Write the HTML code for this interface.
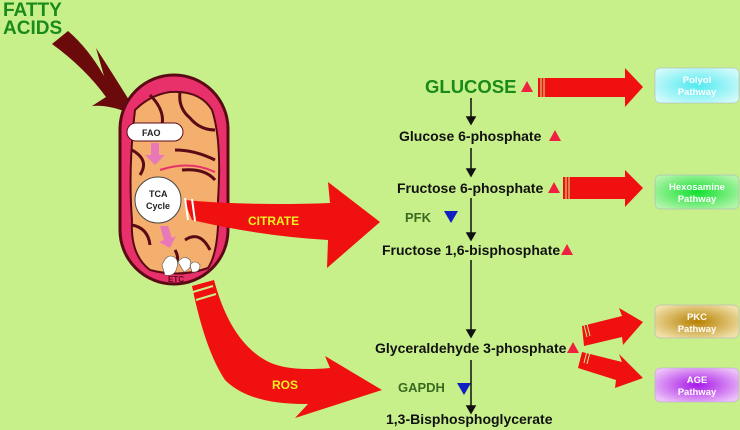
<!DOCTYPE html>
<html><head><meta charset="utf-8"><style>
html,body{margin:0;padding:0;background:#c8f08a;}
svg{display:block}
text{font-family:"Liberation Sans",Arial,sans-serif;font-weight:bold}
</style></head><body>
<svg width="740" height="430" viewBox="0 0 740 430" xmlns="http://www.w3.org/2000/svg">
<defs>
<radialGradient id="gp" cx="50%" cy="50%" r="60%"><stop offset="0" stop-color="#50eaf0"/><stop offset="1" stop-color="#d0fafa"/></radialGradient>
<radialGradient id="gh" cx="50%" cy="50%" r="60%"><stop offset="0" stop-color="#10e030"/><stop offset="1" stop-color="#b0f5a8"/></radialGradient>
<radialGradient id="gk" cx="50%" cy="50%" r="60%"><stop offset="0" stop-color="#b88000"/><stop offset="1" stop-color="#f0e0a8"/></radialGradient>
<radialGradient id="ga" cx="50%" cy="50%" r="60%"><stop offset="0" stop-color="#a818e8"/><stop offset="1" stop-color="#ecc0f8"/></radialGradient>
</defs>
<rect width="740" height="430" fill="#c8f08a"/>
<text x="3" y="16" font-size="19" fill="#1a8a1a">FATTY</text>
<text x="3" y="34" font-size="19" fill="#1a8a1a">ACIDS</text>
<!-- fatty acid arrow -->
<path d="M52,44 L68,31 Q88,48 104,76 L96,48 Q120,85 140,118 Q112,104 92,106 L106,97 Q85,68 52,44Z" fill="#6b0a0a"/>
<!-- mitochondrion -->
<rect x="120" y="75" width="108" height="209" rx="54" fill="#e8306a" stroke="#5a0a14" stroke-width="3"/>
<path d="M135,110 Q150,95 170,92 Q200,90 212,110 Q222,140 218,200 Q220,250 208,268 Q180,278 150,270 Q130,255 132,220 Q128,170 135,110Z" fill="#f4ae6e" stroke="#5a0a14" stroke-width="2"/>
<path d="M150,95 Q165,110 162,125 M180,92 Q178,108 190,118 Q200,130 215,130 M175,150 Q195,150 215,160 M182,170 Q205,168 215,180 M132,150 Q150,160 140,175 M132,225 Q148,228 150,245 M185,240 Q200,230 210,250 M175,250 Q182,262 170,268" fill="none" stroke="#5a0a14" stroke-width="3"/>
<path d="M160,170 Q190,160 215,172" fill="none" stroke="#e8306a" stroke-width="2"/>
<rect x="127" y="123" width="56" height="18" rx="9" fill="#fff" stroke="#5a0a14" stroke-width="1"/>
<text x="142" y="136" font-size="9" fill="#222">FAO</text>
<path d="M151,143 h8 v12 h6 l-10,10 l-10,-10 h6z" fill="#e878b8"/>
<circle cx="158" cy="200" r="23" fill="#fff" stroke="#444" stroke-width="1"/>
<text x="149" y="197" font-size="9" fill="#222">TCA</text>
<text x="146" y="209" font-size="9" fill="#222">Cycle</text>
<path d="M160,226 h8 l4,12 l4,-2 l-6,12 l-11,-6 l5,-2z" fill="#e878b8"/>
<path d="M162,265 q5,-12 12,-8 q5,3 3,10 q-2,10 -12,8z M178,262 q6,-8 12,-2 q3,8 -6,12z M190,265 q5,-6 10,0 q0,8 -8,7z" fill="#fff" stroke="#555" stroke-width="0.6"/>
<text x="168" y="282" font-size="8" fill="#5a0a14">ETC</text>
<!-- citrate arrow -->
<path d="M184,200 Q250,206 330,203 L328,182 L380,222 L327,268 L328,240 Q260,236 192,220Z" fill="#f01010"/>
<path d="M185,198 l3,22 M192,199 l3,22" stroke="#fff" stroke-width="2"/>
<text x="248" y="225" font-size="12" fill="#f0f020">CITRATE</text>
<!-- ROS arrow -->
<path d="M192,286 L214,280 Q230,340 265,360 Q285,372 330,368 L325,356 L382,390 L295,418 L308,404 Q250,405 225,380 Q205,350 192,286Z" fill="#f01010"/>
<path d="M193,292 l20,-6 M196,300 l20,-6" stroke="#c8f08a" stroke-width="2"/>
<text x="272" y="389" font-size="12" fill="#f0f020">ROS</text>
<!-- right column -->
<text x="425" y="93" font-size="18.5" fill="#1a8a1a">GLUCOSE</text>
<text x="399" y="141" font-size="14" fill="#111">Glucose 6-phosphate</text>
<text x="397" y="193" font-size="14" fill="#111">Fructose 6-phosphate</text>
<text x="405" y="222" font-size="13" fill="#3a6a20">PFK</text>
<text x="382" y="255" font-size="14" fill="#111">Fructose 1,6-bisphosphate</text>
<text x="375" y="353" font-size="14" fill="#111">Glyceraldehyde 3-phosphate</text>
<text x="398" y="392" font-size="13" fill="#3a6a20">GAPDH</text>
<text x="386" y="424" font-size="14" fill="#111">1,3-Bisphosphoglycerate</text>
<g fill="#f02040">
<path d="M521,92 l6,-11 l6,11z"/><path d="M549,141 l6,-11 l6,11z"/><path d="M548,193 l6,-11 l6,11z"/><path d="M561,255 l6,-11 l6,11z"/><path d="M567,353 l6,-11 l6,11z"/>
</g>
<g fill="#1020c0"><path d="M444,211 h14 l-7,12z"/><path d="M457,383 h14 l-7,12z"/></g>
<g stroke="#111" stroke-width="1.5" fill="#111">
<line x1="471" y1="98" x2="471" y2="118"/><path d="M467,117 l4,7 l4,-7z"/>
<line x1="471" y1="148" x2="471" y2="170"/><path d="M467,169 l4,7 l4,-7z"/>
<line x1="471" y1="198" x2="471" y2="234"/><path d="M467,233 l4,7 l4,-7z"/>
<line x1="471" y1="260" x2="471" y2="331"/><path d="M467,330 l4,7 l4,-7z"/>
<line x1="471" y1="360" x2="471" y2="407"/><path d="M467,406 l4,7 l4,-7z"/>
</g>
<!-- pathway arrows -->
<g fill="#f01010">
<path d="M538,78 h87 v-10 l18,19 l-18,20 v-10 h-87z"/>
<path d="M563,177 h62 v-7 l18,18 l-18,19 v-8 h-62z"/>
<path d="M582,326 l40,-10 l-3,-8 l24,14 l-20,23 l-1,-8 l-38,9z"/>
<path d="M582,352 l40,10 l-3,-8 l24,24 l-28,10 l1,-8 l-38,-12z"/>
</g>
<g stroke="#c8f08a" stroke-width="1">
<path d="M541,77 v21 M544,77 v21"/><path d="M566,176 v23 M569,176 v23"/>
<path d="M584,325 l3,12 M587,324 l3,12"/><path d="M587,351 l-3,12 M590,352 l-3,12"/>
</g>
<g font-size="9.5" fill="#fff" text-anchor="middle">
<rect x="655" y="68" width="84" height="35" rx="5" fill="url(#gp)" stroke="#aac" stroke-width="0.5"/>
<text x="697" y="83">Polyol</text><text x="697" y="95">Pathway</text>
<rect x="655" y="175" width="84" height="34" rx="5" fill="url(#gh)" stroke="#aac" stroke-width="0.5"/>
<text x="697" y="190">Hexosamine</text><text x="697" y="202">Pathway</text>
<rect x="655" y="305" width="84" height="33" rx="5" fill="url(#gk)" stroke="#aac" stroke-width="0.5"/>
<text x="697" y="320">PKC</text><text x="697" y="332">Pathway</text>
<rect x="655" y="368" width="84" height="34" rx="5" fill="url(#ga)" stroke="#aac" stroke-width="0.5"/>
<text x="697" y="383">AGE</text><text x="697" y="395">Pathway</text>
</g>
</svg>
</body></html>
